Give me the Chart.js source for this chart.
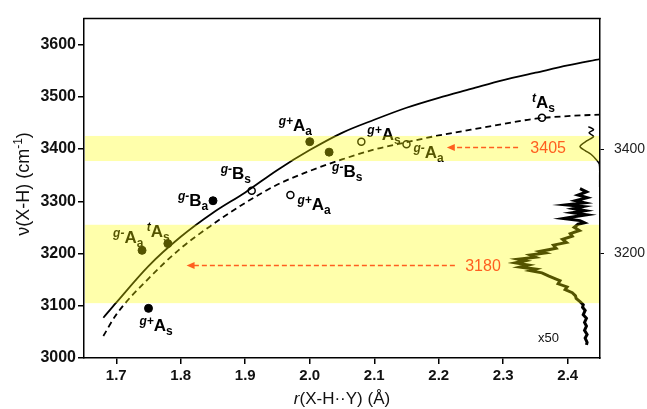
<!DOCTYPE html>
<html>
<head>
<meta charset="utf-8">
<script src="https://cdn.jsdelivr.net/npm/chart.js@4.4.1/dist/chart.umd.min.js"></script>
<style>
  html, body { margin: 0; padding: 0; background: #fff; }
  #wrap { width: 647px; height: 409px; }
</style>
</head>
<body>
<div id="wrap"><canvas id="c" width="647" height="409"></canvas></div>
<script>
// ---------- data ----------
const xTickValues = [1.7, 1.8, 1.9, 2.0, 2.1, 2.2, 2.3, 2.4];
const yTickValues = [3000, 3100, 3200, 3300, 3400, 3500, 3600];
const y2TickValues = [3200, 3400];

// correlation curves
const curveR    = [1.68, 1.70, 1.75, 1.80, 1.85, 1.90, 1.95, 2.00, 2.05, 2.10, 2.15, 2.20, 2.25, 2.30, 2.35, 2.40, 2.45];
const solidNu   = [3077, 3106, 3176, 3232, 3278, 3317, 3360, 3398, 3431, 3456, 3479, 3498, 3515, 3532, 3546, 3560, 3572];
const dashedNu  = [3042, 3083, 3152, 3210, 3256, 3297, 3332, 3358, 3380, 3399, 3413, 3426, 3437, 3448, 3458, 3463, 3466];

// computed conformers
const filledR      = [1.75, 1.74, 1.78, 1.85, 2.00, 2.03];
const filledNu     = [3095, 3206, 3219, 3301, 3414, 3394];
const filledLabels = ['g+|A|s', 'g-|A|a', 't|A|s', 'g-|B|a', 'g+|A|a', 'g-|B|s'];
const openR        = [1.91, 1.97, 2.08, 2.15, 2.36];
const openNu       = [3320, 3312, 3414, 3409, 3460];
const openLabels   = ['g-|B|s', 'g+|A|a', 'g+|A|s', 'g-|A|a', 't|A|s'];

// IR spectrum (drawn vertically along the right edge)
const specUpperX  = [2.432, 2.440, 2.433, 2.440, 2.430, 2.419, 2.427, 2.436, 2.444, 2.449, 2.4495, 2.4495];
const specUpperNu = [3443, 3437, 3431, 3424, 3416, 3405, 3397, 3390, 3380, 3371, 3346, 3327];
const specLowX  = [2.419, 2.429, 2.416, 2.430, 2.412, 2.426, 2.398, 2.424, 2.409, 2.427, 2.407, 2.429, 2.412, 2.393, 2.419, 2.426,
                   2.416, 2.410, 2.418, 2.404, 2.407, 2.392, 2.398, 2.378, 2.382, 2.357, 2.365, 2.342, 2.350, 2.323, 2.334, 2.319,
                   2.339, 2.326, 2.350, 2.342, 2.360, 2.370, 2.382, 2.388, 2.385, 2.399, 2.396, 2.407, 2.412, 2.413, 2.419, 2.424,
                   2.423, 2.427, 2.424, 2.429, 2.426, 2.429, 2.426, 2.430, 2.427, 2.430, 2.429];
const specLowNu = [3324, 3318, 3312, 3307, 3301, 3297, 3293, 3290, 3286, 3282, 3278, 3274, 3271, 3267, 3263, 3259,
                   3256, 3250, 3244, 3238, 3233, 3227, 3221, 3216, 3210, 3204, 3201, 3197, 3193, 3189, 3186, 3182,
                   3178, 3174, 3170, 3167, 3163, 3157, 3151, 3148, 3142, 3136, 3131, 3125, 3119, 3114, 3108, 3102,
                   3097, 3091, 3083, 3076, 3068, 3061, 3053, 3045, 3038, 3030, 3025];

// highlighted bands and band markers
const bandLowNu  = [3105, 3255];
const bandHighNu = [3377, 3425];
const markerValues = ['3405', '3180'];
const markerNu     = [3403, 3177];
const markerFromR  = [2.323, 2.225];
const markerToR    = [2.2125, 1.809];
const markerTextR  = [2.342, 2.241];
const scaleNote = 'x50';
const scaleNoteR = 2.354, scaleNoteNu = 3038;

// ---------- layout (pixel offsets of labels from their points) ----------
const filledOffsets = [[-9, 23], [-29, -7], [-21, -7], [-35, 5], [-31, -11], [3, 25]];
const openOffsets   = [[-31, -12], [7, 15], [6, -2], [7, 14], [-10, -10]];

const FONT = '"Liberation Sans", Arial, Helvetica, sans-serif';
const toXY = (xs, ys) => xs.map((x, i) => ({ x: x, y: ys[i] }));

function drawConfLabel(ctx, x, y, spec) {
  const [sup, main, sub] = spec.split('|');
  ctx.textBaseline = 'alphabetic';
  ctx.textAlign = 'left';
  ctx.font = 'italic bold 12px ' + FONT;
  ctx.fillText(sup, x, y - 6);
  x += ctx.measureText(sup).width;
  ctx.font = 'bold 17px ' + FONT;
  ctx.fillText(main, x, y);
  x += ctx.measureText(main).width;
  ctx.font = 'bold 12px ' + FONT;
  ctx.fillText(sub, x, y + 4);
}

const decor = {
  id: 'decor',
  afterDatasetsDraw(chart) {
    const ctx = chart.ctx, xs = chart.scales.x, ys = chart.scales.y, a = chart.chartArea;
    ctx.save();
    ctx.fillStyle = '#000';
    filledLabels.forEach((l, i) => {
      drawConfLabel(ctx, xs.getPixelForValue(filledR[i]) + filledOffsets[i][0],
                         ys.getPixelForValue(filledNu[i]) + filledOffsets[i][1], l);
    });
    openLabels.forEach((l, i) => {
      drawConfLabel(ctx, xs.getPixelForValue(openR[i]) + openOffsets[i][0],
                         ys.getPixelForValue(openNu[i]) + openOffsets[i][1], l);
    });
    ctx.font = '13px ' + FONT;
    ctx.fillStyle = '#111';
    ctx.textBaseline = 'middle';
    ctx.fillText(scaleNote, xs.getPixelForValue(scaleNoteR), ys.getPixelForValue(scaleNoteNu));
    // top frame line
    ctx.strokeStyle = '#000';
    ctx.lineWidth = 1.5;
    ctx.beginPath();
    ctx.moveTo(a.left - 0.75, a.top);
    ctx.lineTo(a.right + 0.75, a.top);
    ctx.stroke();
    ctx.restore();
  },
  afterDraw(chart) {
    const ctx = chart.ctx, xs = chart.scales.x, ys = chart.scales.y, a = chart.chartArea;
    ctx.save();
    // translucent yellow bands on top of everything inside the frame
    ctx.fillStyle = 'rgba(255,255,0,0.33)';
    [bandLowNu, bandHighNu].forEach(b => {
      const y1 = ys.getPixelForValue(b[1]), y0 = ys.getPixelForValue(b[0]);
      ctx.fillRect(a.left + 1, y1, a.right - a.left - 2, y0 - y1);
    });
    // orange arrows + values
    const orange = '#ff5f1f';
    markerValues.forEach((t, i) => {
      const py = ys.getPixelForValue(markerNu[i]);
      const x0 = xs.getPixelForValue(markerFromR[i]);
      const x1 = xs.getPixelForValue(markerToR[i]);
      ctx.strokeStyle = orange;
      ctx.fillStyle = orange;
      ctx.lineWidth = 1.6;
      ctx.setLineDash([5, 3]);
      ctx.beginPath();
      ctx.moveTo(x0, py);
      ctx.lineTo(x1 + 6, py);
      ctx.stroke();
      ctx.setLineDash([]);
      ctx.beginPath();
      ctx.moveTo(x1, py);
      ctx.lineTo(x1 + 8, py - 3.5);
      ctx.lineTo(x1 + 8, py + 3.5);
      ctx.closePath();
      ctx.fill();
      ctx.font = '16px ' + FONT;
      ctx.textBaseline = 'middle';
      ctx.textAlign = 'left';
      ctx.fillText(t, xs.getPixelForValue(markerTextR[i]), py + 1);
    });
    // axis titles
    ctx.fillStyle = '#111';
    ctx.textBaseline = 'alphabetic';
    // x title: r(X-H··Y) (Å)
    const xt1 = 'r', xt2 = '(X-H\u00B7\u00B7Y) (\u00C5)';
    ctx.font = 'italic 17px ' + FONT;
    const w1 = ctx.measureText(xt1).width;
    ctx.font = '17px ' + FONT;
    const w2 = ctx.measureText(xt2).width;
    let sx = (a.left + a.right) / 2 - (w1 + w2) / 2;
    ctx.font = 'italic 17px ' + FONT;
    ctx.fillText(xt1, sx, 404);
    ctx.font = '17px ' + FONT;
    ctx.fillText(xt2, sx + w1, 404);
    // y title: ν(X-H) (cm-1)
    const yt1 = '\u03BD(X-H) (cm', ys1 = '-1', yt2 = ')';
    ctx.font = '18px ' + FONT;
    const m1 = ctx.measureText(yt1).width, m3 = ctx.measureText(yt2).width;
    ctx.font = '12px ' + FONT;
    const m2 = ctx.measureText(ys1).width;
    const W = m1 + m2 + m3;
    ctx.translate(29, 184);
    ctx.rotate(-Math.PI / 2);
    ctx.font = '18px ' + FONT;
    ctx.fillText(yt1, -W / 2, 0);
    ctx.font = '12px ' + FONT;
    ctx.fillText(ys1, -W / 2 + m1, -7);
    ctx.font = '18px ' + FONT;
    ctx.fillText(yt2, -W / 2 + m1 + m2, 0);
    ctx.restore();
  }
};

const axisGrid = { drawOnChartArea: false, color: '#000', lineWidth: 1.5, tickLength: 6 };
const axisBorder = { color: '#000', width: 1.5 };

new Chart(document.getElementById('c'), {
  type: 'line',
  data: {
    datasets: [
      { data: toXY(curveR, solidNu), borderColor: '#000', borderWidth: 1.8, pointRadius: 0, cubicInterpolationMode: 'monotone', yAxisID: 'y' },
      { data: toXY(curveR, dashedNu), borderColor: '#000', borderWidth: 1.8, borderDash: [6, 4], pointRadius: 0, cubicInterpolationMode: 'monotone', yAxisID: 'y' },
      { data: toXY(filledR, filledNu), showLine: false, pointRadius: 4, pointBackgroundColor: '#000', pointBorderColor: '#000', pointBorderWidth: 1, yAxisID: 'y' },
      { data: toXY(openR, openNu), showLine: false, pointRadius: 3.5, pointBackgroundColor: '#fff', pointBorderColor: '#000', pointBorderWidth: 1.5, yAxisID: 'y' },
      { data: toXY(specUpperX, specUpperNu), borderColor: '#000', borderWidth: 1.5, pointRadius: 0, tension: 0.3, yAxisID: 'y' },
      { data: toXY(specLowX, specLowNu), borderColor: '#000', borderWidth: 3, pointRadius: 0, tension: 0, yAxisID: 'y' }
    ]
  },
  options: {
    responsive: false,
    devicePixelRatio: 1,
    animation: false,
    events: [],
    layout: { padding: { top: 14, left: 0, right: 0, bottom: 0 } },
    plugins: { legend: { display: false }, tooltip: { enabled: false } },
    scales: {
      x: {
        type: 'linear', min: 1.65, max: 2.45,
        afterBuildTicks: s => { s.ticks = xTickValues.map(v => ({ value: v })); },
        ticks: { callback: v => Number(v).toFixed(1), color: '#111', font: { family: FONT, size: 15, weight: 'bold' }, padding: 3, maxRotation: 0, autoSkip: false },
        grid: axisGrid, border: axisBorder,
        afterFit: s => { s.height = 51; }
      },
      y: {
        type: 'linear', position: 'left', min: 3000, max: 3650,
        afterBuildTicks: s => { s.ticks = yTickValues.map(v => ({ value: v })); },
        ticks: { callback: v => String(v), color: '#111', font: { family: FONT, size: 16, weight: 'bold' }, padding: 2, autoSkip: false },
        grid: axisGrid, border: axisBorder,
        afterFit: s => { s.width = 84; }
      },
      y2: {
        type: 'linear', position: 'right', min: 3000, max: 3650,
        afterBuildTicks: s => { s.ticks = y2TickValues.map(v => ({ value: v })); },
        ticks: { callback: v => String(v), color: '#222', font: { family: FONT, size: 14 }, padding: 10, autoSkip: false },
        grid: { drawOnChartArea: false, color: '#000', lineWidth: 1, tickLength: 4 }, border: axisBorder,
        afterFit: s => { s.width = 47; }
      }
    }
  },
  plugins: [decor]
});
</script>
</body>
</html>
